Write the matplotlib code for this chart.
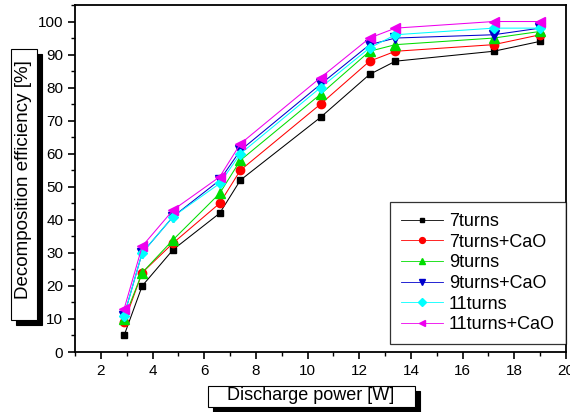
import matplotlib
matplotlib.use("Agg")
import matplotlib.pyplot as plt
from matplotlib.patches import Rectangle
from matplotlib.ticker import MultipleLocator

plt.rcParams['font.family'] = ['Liberation Sans', 'DejaVu Sans']

power = [2.9, 3.6, 4.8, 6.6, 7.4, 10.5, 12.4, 13.4, 17.2, 19.0]

t7 = [5, 20, 31, 42, 52, 71, 84, 88, 91, 94]
t7_cao = [9, 24, 33, 45, 55, 75, 88, 91, 93, 96]
t9 = [10, 24, 34, 48, 58, 78, 91, 93, 95, 97]
t9_cao = [11, 30, 41, 52, 61, 81, 93, 95, 96, 98]
t11 = [11, 30, 41, 51, 60, 80, 92, 96, 98, 98]
t11_cao = [13, 32, 43, 53, 63, 83, 95, 98, 100, 100]

series = [
    ("7turns", t7, "black", "s", 5),
    ("7turns+CaO", t7_cao, "red", "o", 6),
    ("9turns", t9, "#00dd00", "^", 7),
    ("9turns+CaO", t9_cao, "#0000cc", "v", 7),
    ("11turns", t11, "cyan", "D", 5.5),
    ("11turns+CaO", t11_cao, "#ee00ee", "<", 7),
]

W, H = 570, 412
AX_L, AX_R, AX_T, AX_B = 75, 566, 5, 352
fig = plt.figure(figsize=(W/100, H/100), dpi=100)
ax = fig.add_axes([AX_L/W, 1 - AX_B/H, (AX_R-AX_L)/W, (AX_B-AX_T)/H])

for name, vals, col, mk, ms in series:
    ax.plot(power, vals, color=col, lw=0.75, marker=mk, ms=ms,
            markeredgecolor=col, label=name)

ax.set_xlim(1, 20)
ax.set_ylim(0, 105)
ax.xaxis.set_major_locator(MultipleLocator(2))
ax.xaxis.set_minor_locator(MultipleLocator(1))
ax.yaxis.set_major_locator(MultipleLocator(10))
ax.yaxis.set_minor_locator(MultipleLocator(5))
ax.tick_params(which='major', direction='out', length=5, width=1.2, labelsize=11)
ax.tick_params(which='minor', direction='out', length=3, width=1.0)
for s in ax.spines.values():
    s.set_linewidth(1.3)

leg = ax.legend(loc='upper left',
                bbox_to_anchor=((390-AX_L)/(AX_R-AX_L), (AX_B-202)/(AX_B-AX_T)),
                fontsize=13, numpoints=1, handlelength=2.3, frameon=True, fancybox=False,
                edgecolor='black', borderpad=0.62, borderaxespad=0, labelspacing=0.2,
                handletextpad=0.35, markerscale=0.7)
leg.get_frame().set_linewidth(0.9)
for line in leg.get_lines():
    line.set_linewidth(0.6)


def label_box(x0, y0, x1, y1):
    # white box with a black drop shadow, pixel coords from the top-left
    for dx, fc in ((5, 'black'), (0, 'white')):
        fig.patches.append(Rectangle(((x0 + dx)/W, 1 - (y1 + dx)/H), (x1 - x0)/W, (y1 - y0)/H,
                                     transform=fig.transFigure, fc=fc, ec='black', lw=0.8))


label_box(208, 386, 415, 407)
fig.text(311/W, 1 - 396/H, "Discharge power [W]", ha='center', va='center', fontsize=13)
label_box(11, 49, 37, 320)
fig.text(24/W, 1 - 180/H, "Decomposition efficiency [%]", ha='center', va='center',
         rotation=90, fontsize=13.5)

fig.savefig("out.png", dpi=100)
